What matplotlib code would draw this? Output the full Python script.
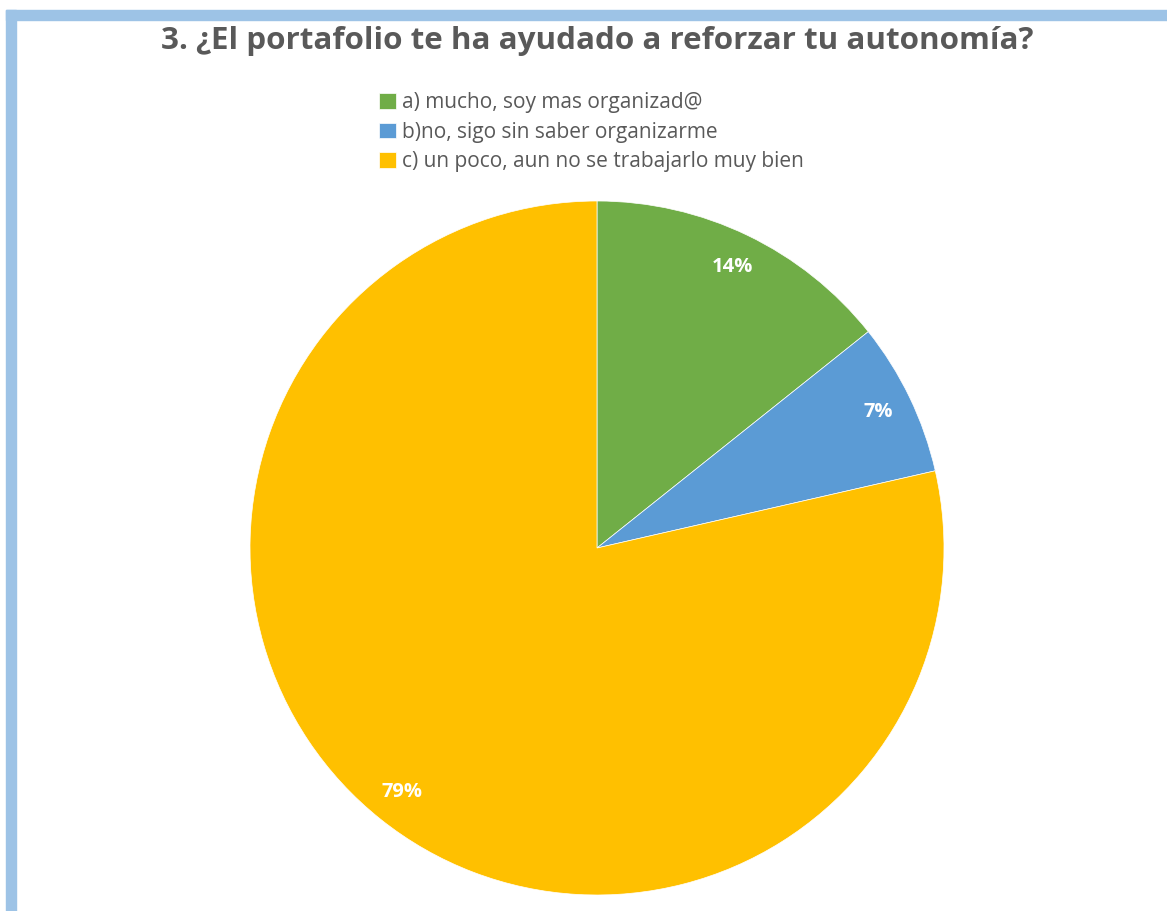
import matplotlib
matplotlib.use("Agg")
import matplotlib.pyplot as plt
from matplotlib.patches import Rectangle

# survey answers (number of students)
categories = ["a) mucho, soy mas organizad@",
              "b)no, sigo sin saber organizarme",
              "c) un poco, aun no se trabajarlo muy bien"]
counts = [2, 1, 11]
colors = ["#70AD47", "#5B9BD5", "#FFC000"]
title = "3. ¿El portafolio te ha ayudado a reforzar tu autonomía?"

plt.rcParams['font.family'] = ['Open Sans', 'DejaVu Sans']

W, H = 1167, 911
fig = plt.figure(figsize=(W / 100, H / 100), dpi=100)
fig.patch.set_facecolor("white")

# light blue frame on top and left
frame = "#9DC3E6"
fig.patches.append(Rectangle((6 / W, 0), 10 / W, 1 - 10 / H, transform=fig.transFigure,
                             color=frame, zorder=0))
fig.patches.append(Rectangle((6 / W, 1 - 20 / H), 1 - 6 / W, 10 / H, transform=fig.transFigure,
                             color=frame, zorder=0))

cx, cy, r = 597, 548, 347
ax = fig.add_axes([(cx - r) / W, (H - cy - r) / H, 2 * r / W, 2 * r / H])
wedges, texts, autotexts = ax.pie(counts, colors=colors, startangle=90, counterclock=False,
                                  autopct=lambda p: f"{p:.0f}%", pctdistance=0.9,
                                  wedgeprops=dict(linewidth=0.5, edgecolor="white"),
                                  textprops=dict(color="white", fontsize=14.5, fontweight="bold"))
ax.set_xlim(-1, 1)
ax.set_ylim(-1, 1)
ax.set_aspect("equal")
ax.axis("off")

fig.text(597 / W, 1 - 41 / H, title, ha="center", va="center",
         fontsize=22.6, fontweight="bold", color="#595959")

leg = fig.legend(wedges, categories, loc="upper left", bbox_to_anchor=(379 / W, 1 - 92 / H),
                 frameon=False, fontsize=15, handlelength=0.8, handleheight=0.8,
                 handletextpad=0.3, labelspacing=0.42, borderpad=0, borderaxespad=0)
for t in leg.get_texts():
    t.set_color("#595959")

fig.savefig("out.png", dpi=100)
